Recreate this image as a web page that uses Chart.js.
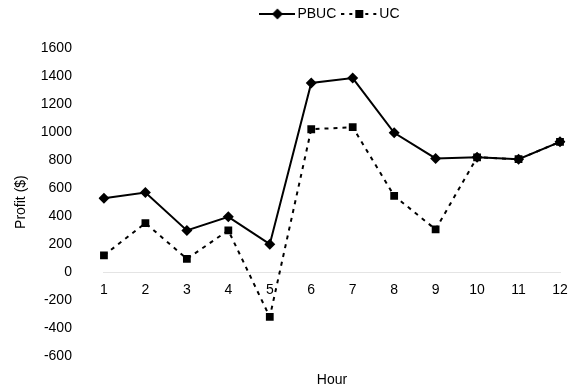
<!DOCTYPE html>
<html>
<head>
<meta charset="utf-8">
<script src="https://cdn.jsdelivr.net/npm/chart.js@4"></script>
<style>
  html, body { margin: 0; padding: 0; background: #fff; }
  #wrap { width: 571px; height: 389px; }
</style>
</head>
<body>
<div id="wrap"><canvas id="profitChart"></canvas></div>
<script>
const hours = ["1", "2", "3", "4", "5", "6", "7", "8", "9", "10", "11", "12"];
const pbuc = [528, 568, 298, 395, 200, 1350, 1385, 995, 812, 820, 806, 930];
const uc = [120, 350, 95, 298, -320, 1020, 1035, 545, 305, 820, 806, 930];
const yTicks = { min: -600, max: 1600, step: 200 };

// little line+marker pictures for the legend
function legendSample(dashed, marker) {
  const c = document.createElement('canvas');
  c.width = 36; c.height = 12;
  const ctx = c.getContext('2d');
  ctx.strokeStyle = '#000';
  ctx.fillStyle = '#000';
  ctx.lineWidth = 2;
  if (dashed) ctx.setLineDash([3, 5]);
  ctx.beginPath();
  ctx.moveTo(0, 6); ctx.lineTo(36, 6);
  ctx.stroke();
  ctx.setLineDash([]);
  if (marker === 'diamond') {
    ctx.beginPath();
    ctx.moveTo(18, 0.5); ctx.lineTo(23.5, 6); ctx.lineTo(18, 11.5); ctx.lineTo(12.5, 6);
    ctx.closePath(); ctx.fill();
  } else {
    ctx.fillRect(14, 2, 8, 8);
  }
  return c;
}

// push the plot down a bit below the legend
const legendGap = {
  id: 'legendGap',
  beforeInit(chart) {
    const fit = chart.legend.fit;
    chart.legend.fit = function () {
      fit.bind(chart.legend)();
      this.height += 17;
    };
  }
};

const font = { family: "'Liberation Sans', Arial, sans-serif", size: 14 };
Chart.defaults.font = font;
Chart.defaults.color = '#000';

new Chart(document.getElementById('profitChart'), {
  type: 'line',
  data: {
    labels: hours,
    datasets: [{
      label: 'PBUC',
      data: pbuc,
      borderColor: '#000',
      backgroundColor: '#000',
      borderWidth: 2,
      pointStyle: 'rectRot',
      pointRadius: 5.5,
      pointBorderWidth: 0,
      tension: 0
    }, {
      label: 'UC',
      data: uc,
      borderColor: '#000',
      backgroundColor: '#000',
      borderWidth: 2,
      borderDash: [4, 5],
      pointStyle: 'rect',
      pointRadius: 5.5,
      pointBorderWidth: 0,
      tension: 0
    }]
  },
  plugins: [legendGap],
  options: {
    responsive: true,
    maintainAspectRatio: false,
    animation: false,
    layout: { padding: { top: -3, right: 11, left: 13, bottom: 0 } },
    plugins: {
      tooltip: { enabled: false },
      legend: {
        position: 'top',
        fullSize: false,
        labels: {
          usePointStyle: true,
          pointStyleWidth: 26,
          padding: 10,
          font: font,
          generateLabels: (chart) => chart.data.datasets.map((ds, i) => ({
            text: ds.label,
            datasetIndex: i,
            pointStyle: legendSample(i === 1, i === 0 ? 'diamond' : 'square'),
            fontColor: '#000',
            lineWidth: 0
          }))
        }
      }
    },
    scales: {
      x: {
        type: 'category',
        position: { y: 0 },
        offset: false,
        grid: { display: false },
        border: { display: true, color: '#e4e4e4', width: 1 },
        ticks: { padding: 2, font: font, maxRotation: 0 }
      },
      x2: {
        type: 'category',
        labels: hours,
        position: 'bottom',
        offset: false,
        grid: { display: false },
        border: { display: false },
        ticks: { display: false },
        title: { display: true, text: 'Hour', font: font, padding: { top: 8, bottom: 0 } }
      },
      y: {
        min: yTicks.min,
        max: yTicks.max,
        ticks: { stepSize: yTicks.step, padding: 1, font: font, callback: (v) => v },
        grid: { display: false, tickLength: 31 },
        border: { display: false },
        title: { display: true, text: 'Profit ($)', font: font, padding: { top: 0, bottom: 10 } }
      }
    }
  }
});
</script>
</body>
</html>
